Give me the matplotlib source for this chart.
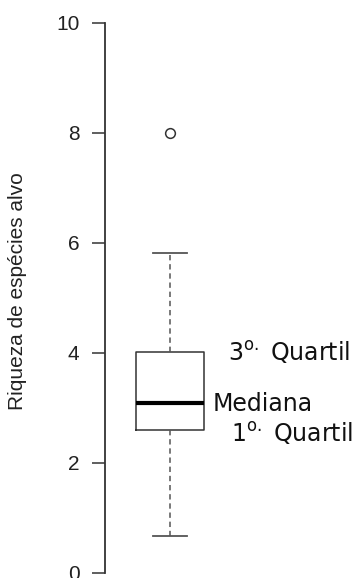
import matplotlib
matplotlib.use('Agg')
import matplotlib.pyplot as plt

# ---------- data ----------
q1 = 2.6
median = 3.1
q3 = 4.02
whisker_low = 0.67
whisker_high = 5.82
outliers = [8.0]

y_ticks = [0, 2, 4, 6, 8, 10]
labels = [r'3$^{\mathrm{o.}}$ Quartil', 'Mediana', r'1$^{\mathrm{o.}}$ Quartil']
label_y = [4.0, 3.07, 2.53]
label_x = [1.433, 1.321, 1.455]

# ---------- plot ----------
fig = plt.figure(figsize=(3.59, 5.78), dpi=100)
ax = fig.add_axes([105/359, 5/578, 254/359, 550/578])

stats = [dict(med=median, q1=q1, q3=q3, whislo=whisker_low, whishi=whisker_high,
              fliers=outliers)]
ax.bxp(stats, positions=[1], widths=0.5, showfliers=True,
       boxprops=dict(color='#333333', linewidth=1.1),
       medianprops=dict(color='black', linewidth=3),
       whiskerprops=dict(color='#555555', linewidth=1.1, linestyle=(0, (3.5, 2.5))),
       capprops=dict(color='#555555', linewidth=1.3),
       flierprops=dict(marker='o', markersize=7, markerfacecolor='none',
                       markeredgecolor='#333333', markeredgewidth=1.1))

ax.set_xlim(0.515, 2.41)
ax.set_ylim(0, 10)
for s in ['top', 'right', 'bottom']:
    ax.spines[s].set_visible(False)
ax.spines['left'].set_bounds(0, 10)
ax.spines['left'].set_color('#333333')
ax.spines['left'].set_linewidth(1.3)
ax.set_xticks([])
ax.set_yticks(y_ticks)
ax.tick_params(axis='y', length=9.4, width=1.1, color='#333333', pad=9,
               labelsize=15, labelcolor='#222222')
for t in ax.get_yticklabels():
    t.set_family('Liberation Sans')
ax.set_ylabel('Riqueza de espécies alvo', fontsize=15, family='Liberation Sans',
              color='#222222')
ax.yaxis.set_label_coords(-0.307, 0.512)

for txt, x, y in zip(labels, label_x, label_y):
    ax.text(x, y, txt, fontsize=17, family='DejaVu Sans', color='#111111',
            ha='left', va='center', clip_on=False)

fig.savefig('out.png', dpi=100)
